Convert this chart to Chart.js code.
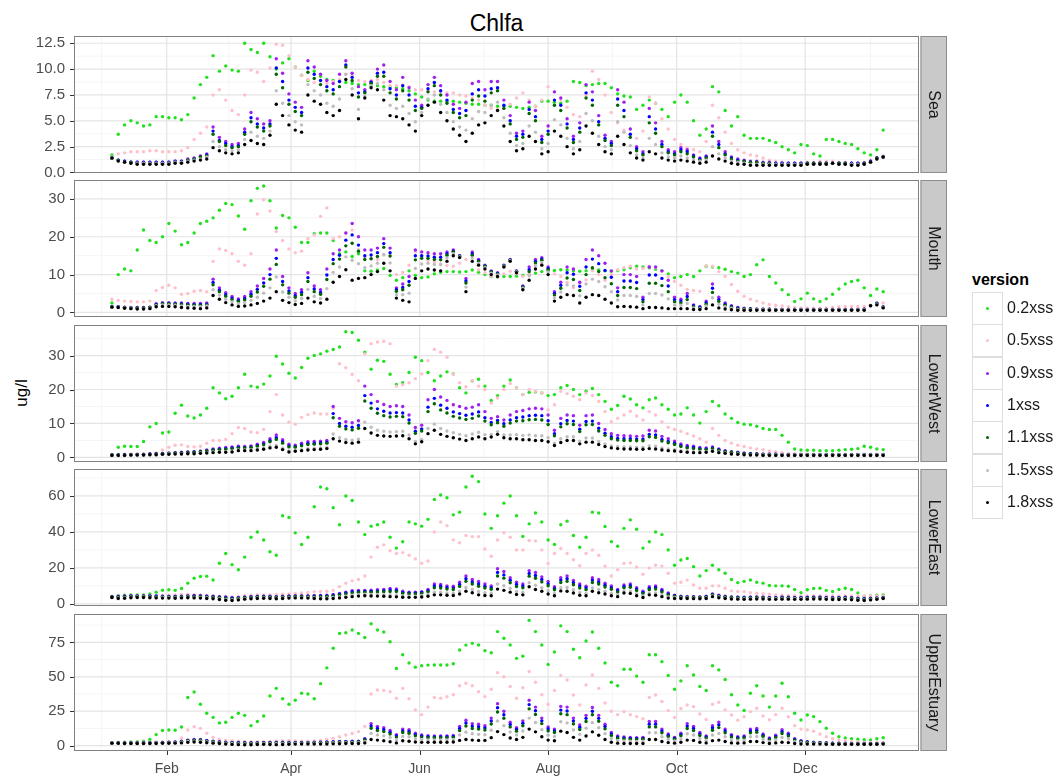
<!DOCTYPE html>
<html lang="en">
<head>
<meta charset="UTF-8">
<title>Chlfa</title>
<script src="https://cdn.jsdelivr.net/npm/chart.js"></script>
<style>
    body { margin: 0; background: #fff; font-family: "Liberation Sans", Arial, sans-serif; }
    #wrap { position: relative; width: 1060px; height: 776px; overflow: hidden; background: #fff; }
    #wrap canvas { position: absolute; left: 0; }
    #title { position: absolute; left: 74px; width: 845px; top: 11px; line-height: 24px; font-size: 23px; text-align: center; color: #000; }
    #ylab { position: absolute; left: -78px; top: 383px; width: 200px; line-height: 20px; font-size: 17px; text-align: center; transform: rotate(-90deg); color: #000; }
    #legendTitle { position: absolute; left: 972px; top: 270px; font-size: 16px; font-weight: bold; line-height: 20px; color: #000; }
    .key { position: absolute; left: 972px; width: 29px; height: 31px; border: 1px solid #dedede; background: #fff; }
    .dot { position: absolute; left: 13px; top: 14px; width: 3px; height: 3px; border-radius: 50%; }
    .klab { position: absolute; left: 1007px; font-size: 16px; line-height: 20px; color: #1a1a1a; }
</style>
</head>
<body>
<div id="wrap">
    <div id="title">Chlfa</div>
    <div id="ylab">ug/l</div>
    <div id="legendTitle">version</div>
</div>

<script>
// ---- categories / ticks ----
const versions = ['0.2xss', '0.5xss', '0.9xss', '1xss', '1.1xss', '1.5xss', '1.8xss'];
const colors = ['#20e020', '#ffc0cb', '#a020f0', '#0000ff', '#006400', '#bebebe', '#000000'];
const sites = ['Sea', 'Mouth', 'LowerWest', 'LowerEast', 'UpperEstuary'];

// day of year (0 = 1 Jan); one sample every 3 days from 6 Jan
const days = [];
for (let i = 0; i < 123; i++) days.push(5 + 3 * i);

const xTickDays = [31, 90, 151, 212, 273, 334];
const xTickLabels = ['Feb', 'Apr', 'Jun', 'Aug', 'Oct', 'Dec'];
const xMinorDays = [0, 60.5, 120.5, 181.5, 242.5, 303.5, 365];

const seaTicks = [0, 2.5, 5, 7.5, 10, 12.5];
const seaTickLabels = ['0.0', '2.5', '5.0', '7.5', '10.0', '12.5'];
const mouthTicks = [0, 10, 20, 30];
const lowerWestTicks = [0, 10, 20, 30];
const lowerEastTicks = [0, 20, 40, 60];
const upperEstuaryTicks = [0, 25, 50, 75];

// ---- Sea ----
const sea02 = [1.7,3.7,4.6,5.0,4.8,4.5,4.6,5.4,5.4,5.3,
5.3,5.1,5.6,7.2,8.5,9.2,11.3,9.8,10.3,9.9,
9.8,12.5,11.9,11.6,12.5,11.2,10.0,10.6,11.0,10.2,
9.4,8.9,9.8,9.3,9.0,8.9,8.8,8.7,8.6,8.5,
8.5,8.4,8.4,8.3,8.3,8.2,8.1,7.9,7.6,7.3,
7.0,6.9,6.9,6.9,6.9,6.8,6.7,6.6,6.6,6.5,
6.5,6.4,6.4,6.4,6.3,6.2,6.3,6.4,6.9,6.9,
6.8,6.7,6.9,8.8,8.7,8.4,8.5,8.6,8.6,8.2,
7.6,7.4,7.3,6.1,6.5,7.0,6.7,6.1,5.4,6.8,
7.5,6.8,5.0,3.6,4.2,8.3,7.8,6.0,4.5,5.4,
3.6,3.3,3.3,3.3,3.1,2.9,2.5,2.2,1.9,2.7,
2.6,1.8,1.6,3.2,3.2,3.0,2.8,2.7,2.3,1.9,
1.7,2.2,4.1];
const sea05 = [1.5,1.8,1.9,2.0,2.0,2.0,2.1,2.1,2.0,2.0,
2.0,2.1,2.4,3.2,3.8,4.4,7.5,8.0,7.0,6.0,
5.6,7.5,9.9,9.7,8.8,10.1,12.4,12.3,11.3,10.2,
9.4,9.0,8.7,8.5,8.6,8.8,9.0,9.5,9.4,8.9,
8.8,8.9,9.0,8.7,8.4,8.4,8.5,8.3,8.0,8.0,
7.9,7.8,7.8,7.7,7.7,7.5,7.4,7.2,7.0,6.5,
6.2,6.1,6.2,6.6,7.2,7.7,7.0,6.4,7.0,8.3,
7.8,7.0,6.3,5.6,5.4,7.5,9.8,9.0,7.5,5.8,
4.8,4.1,3.6,3.3,4.0,7.3,6.7,5.2,4.2,3.2,
2.7,2.4,2.2,2.0,3.0,6.5,5.3,3.9,2.8,2.2,
1.9,1.7,1.6,1.4,1.2,1.1,1.0,0.9,0.9,0.9,
1.0,1.0,1.1,1.1,1.1,1.0,1.0,0.9,0.9,1.0,
1.2,1.4,1.6];
const sea09 = [1.4,1.2,1.1,1.0,1.0,1.0,1.0,1.0,1.0,1.0,
1.1,1.1,1.3,1.4,1.6,1.8,4.4,3.4,3.0,2.7,
2.8,4.2,5.8,5.2,4.7,5.0,11.0,9.6,7.6,6.8,
6.3,10.8,10.2,9.5,8.9,8.6,9.5,10.8,9.6,8.3,
8.0,8.8,10.0,10.4,8.8,8.0,9.2,8.2,7.0,6.5,
8.5,9.2,8.4,7.5,6.6,6.2,6.8,8.6,8.8,8.0,
8.8,8.8,7.0,5.5,3.8,4.0,6.8,6.0,3.5,4.5,
7.8,7.2,5.2,3.5,4.8,8.5,7.8,5.5,3.6,3.0,
8.0,6.8,4.2,2.5,2.0,6.2,4.8,3.0,2.2,2.0,
2.4,2.2,1.7,1.4,1.6,4.5,3.0,2.0,1.5,1.3,
1.2,1.1,1.1,1.0,1.0,0.9,0.9,0.9,0.9,0.9,
0.9,0.9,0.9,0.9,0.9,0.9,0.9,0.9,0.9,0.9,
1.1,1.4,1.5];
const sea10 = [1.4,1.2,1.1,1.0,1.0,1.0,1.0,1.0,1.0,1.0,
1.1,1.1,1.2,1.3,1.5,1.7,4.0,3.1,2.8,2.5,
2.6,3.9,5.3,4.7,4.3,4.7,10.1,8.8,7.0,6.3,
5.8,10.1,9.5,8.9,8.3,8.0,8.8,10.4,9.2,7.7,
7.8,8.7,9.6,9.7,8.1,7.5,8.4,7.5,6.4,6.3,
8.1,8.7,7.9,7.0,6.1,5.7,6.0,7.6,8.0,7.4,
8.1,8.2,6.5,5.0,3.5,3.7,6.1,5.4,3.2,4.0,
7.0,6.5,4.7,3.2,4.3,7.7,7.0,4.9,3.3,2.8,
7.1,6.0,3.7,2.3,1.8,5.4,4.2,2.7,2.0,1.8,
2.2,2.0,1.6,1.3,1.5,3.9,2.7,1.8,1.4,1.2,
1.1,1.0,1.0,0.9,0.9,0.9,0.9,0.9,0.9,0.9,
0.9,0.9,0.9,0.9,0.9,0.9,0.9,0.9,0.9,0.9,
1.1,1.4,1.5];
const sea11 = [1.4,1.2,1.0,1.0,0.9,0.9,0.9,0.9,0.9,0.9,
1.0,1.0,1.2,1.3,1.5,1.6,3.7,3.0,2.6,2.4,
2.5,3.7,4.9,4.4,4.0,4.5,9.5,8.2,6.6,5.9,
5.5,9.7,9.1,8.5,7.9,7.6,8.3,10.2,8.9,7.3,
7.7,8.6,9.3,9.3,7.7,7.1,7.9,7.0,6.0,6.2,
7.8,8.4,7.5,6.7,5.8,5.3,5.5,7.0,7.4,6.9,
7.7,7.9,6.2,4.7,3.2,3.4,5.7,5.0,2.9,3.7,
6.5,6.0,4.3,2.9,3.9,7.2,6.5,4.6,3.1,2.6,
6.5,5.4,3.4,2.1,1.7,4.8,3.8,2.5,1.9,1.7,
2.0,1.8,1.5,1.2,1.4,3.5,2.4,1.7,1.3,1.1,
1.1,1.0,1.0,0.9,0.9,0.8,0.8,0.8,0.8,0.8,
0.9,0.9,0.9,0.9,0.9,0.9,0.9,0.8,0.8,0.9,
1.0,1.4,1.5];
const sea15 = [1.4,1.1,1.0,0.9,0.9,0.9,0.9,0.9,0.9,0.9,
1.0,1.0,1.1,1.2,1.3,1.5,3.0,2.5,2.2,2.1,
2.2,3.2,3.9,3.5,3.3,4.0,7.9,6.7,5.5,4.9,
4.6,8.5,7.9,7.5,6.7,6.4,7.1,9.5,8.1,6.1,
7.4,8.4,8.6,8.0,6.5,6.2,6.4,5.7,4.9,5.8,
7.1,7.5,6.6,5.8,4.9,4.4,4.1,5.2,5.9,5.8,
6.5,6.8,5.3,3.8,2.6,2.8,4.5,3.9,2.3,2.8,
5.1,4.6,3.3,2.3,3.0,5.7,5.0,3.5,2.5,2.2,
4.9,3.9,2.6,1.7,1.4,3.3,2.7,1.9,1.5,1.4,
1.6,1.4,1.2,1.1,1.2,2.5,1.8,1.4,1.1,1.0,
0.9,0.8,0.8,0.8,0.8,0.8,0.8,0.8,0.8,0.8,
0.8,0.8,0.8,0.8,0.9,0.8,0.8,0.8,0.8,0.8,
1.0,1.3,1.5];
const sea18 = [1.4,1.1,1.0,0.9,0.8,0.8,0.8,0.8,0.8,0.8,
0.9,0.9,1.0,1.1,1.2,1.3,2.4,2.1,1.9,1.8,
1.9,2.7,3.1,2.8,2.7,3.6,6.6,5.5,4.6,4.1,
3.9,7.5,6.9,6.6,5.8,5.5,6.0,9.0,7.5,5.2,
7.2,8.2,8.0,7.0,5.5,5.4,5.2,4.6,4.0,5.5,
6.5,6.8,5.8,5.0,4.2,3.6,3.0,3.8,4.6,4.8,
5.5,6.0,4.5,3.0,2.1,2.3,3.5,3.0,1.8,2.0,
4.0,3.5,2.5,1.8,2.2,4.5,3.8,2.7,2.0,1.8,
3.5,2.7,1.9,1.4,1.2,2.0,1.8,1.4,1.2,1.1,
1.2,1.1,1.0,0.9,1.0,1.6,1.3,1.1,0.9,0.8,
0.8,0.7,0.7,0.7,0.7,0.7,0.7,0.7,0.7,0.7,
0.8,0.8,0.8,0.8,0.9,0.8,0.8,0.7,0.7,0.8,
1.0,1.3,1.5];

// ---- Mouth ----
const mouth02 = [2.5,10.0,11.5,11.0,16.5,21.8,19.0,18.5,20.0,23.5,
21.5,17.9,18.5,21.0,23.5,24.1,25.0,27.0,28.8,28.5,
25.5,22.0,29.5,32.8,33.4,29.5,22.3,25.6,25.0,22.5,
18.5,18.5,20.8,21.0,21.0,19.0,15.5,16.0,14.8,15.5,
11.0,10.9,11.2,11.6,9.8,8.5,9.2,11.0,9.8,9.2,
9.4,10.2,10.6,10.8,10.8,10.7,10.8,11.2,10.6,10.0,
9.5,9.4,9.5,9.5,9.6,9.8,10.0,10.4,10.8,11.0,
11.1,11.3,11.2,11.0,10.9,11.0,11.2,11.2,11.0,10.9,
11.1,11.3,11.8,12.2,12.0,11.8,11.4,11.0,10.2,9.2,
9.5,10.0,9.5,11.0,12.2,12.0,11.8,11.4,10.8,10.4,
9.5,10.0,12.6,13.9,9.5,7.8,6.0,4.7,2.9,3.6,
5.1,3.6,2.9,3.6,4.8,6.2,7.5,8.2,8.5,6.5,
4.5,6.2,5.5];
const mouth05 = [3.5,3.2,3.0,2.9,2.8,2.8,3.0,5.8,6.6,7.2,
6.5,4.8,5.0,5.6,5.8,5.5,13.5,16.8,16.4,15.5,
13.5,12.5,15.5,26.0,29.8,26.8,21.4,19.0,16.8,15.8,
16.2,19.5,20.5,25.4,27.6,19.5,20.0,21.0,21.8,16.6,
14.5,14.2,14.0,15.2,15.0,10.0,10.6,12.5,16.0,15.0,
13.8,13.3,12.8,12.4,12.2,13.0,14.0,15.0,11.3,10.5,
9.6,9.5,10.2,10.9,10.2,9.5,10.2,11.5,12.6,11.5,
10.2,9.5,8.0,6.5,7.5,8.6,11.0,10.0,8.5,10.0,
11.3,11.8,12.2,11.5,11.6,12.2,11.8,10.8,9.5,8.2,
7.2,6.1,5.8,5.6,12.3,12.2,10.8,9.5,7.4,5.6,
4.3,3.5,3.0,2.5,2.1,1.9,1.7,1.5,1.3,1.2,
1.1,1.1,1.1,1.2,1.3,1.5,1.6,1.6,1.6,1.6,
1.9,2.2,2.5];
const mouth09 = [1.5,1.5,1.4,1.3,1.3,1.3,1.4,2.3,2.6,2.6,
2.5,2.5,2.4,2.4,2.4,2.5,8.8,6.5,5.2,4.2,
3.6,4.2,5.5,7.0,9.0,11.5,16.5,9.5,6.5,5.0,
6.0,10.5,7.0,6.0,11.5,15.5,16.5,21.0,23.5,20.0,
16.5,16.5,17.0,19.5,17.0,6.5,7.5,9.5,16.5,16.0,
15.8,15.5,15.5,16.0,16.5,15.0,9.0,16.0,14.0,12.5,
11.0,10.5,12.5,14.0,11.0,7.0,12.0,14.0,14.5,12.0,
5.5,8.0,12.0,11.5,8.0,14.0,16.5,15.0,13.0,11.0,
6.5,10.0,10.0,9.5,4.0,12.0,12.0,11.0,8.5,4.0,
3.5,5.0,2.0,1.5,3.0,7.5,4.0,2.5,1.8,1.3,
1.1,1.0,0.9,0.9,0.9,0.8,0.8,0.8,0.8,0.8,
0.8,0.8,0.8,0.8,0.8,0.8,0.8,0.8,0.8,0.9,
1.8,2.5,1.5];
const mouth10 = [1.5,1.5,1.3,1.2,1.2,1.2,1.3,2.1,2.4,2.4,
2.3,2.3,2.2,2.1,2.1,2.2,7.9,5.9,4.7,3.8,
3.2,3.7,4.8,6.1,7.8,10.0,14.3,8.2,5.7,4.4,
5.3,9.2,6.2,5.3,9.9,14.0,15.1,19.1,20.5,17.8,
15.0,15.2,15.8,18.2,15.8,6.0,6.6,8.2,15.0,15.0,
14.9,14.6,14.6,15.5,16.2,14.9,8.3,15.5,13.7,12.3,
10.8,10.3,12.4,13.9,10.9,6.8,11.3,13.5,14.1,11.6,
5.0,7.2,10.5,10.1,6.9,12.0,14.1,12.9,11.1,9.3,
5.5,8.3,8.3,7.9,3.4,9.9,9.9,9.0,7.0,3.4,
3.0,4.2,1.8,1.4,2.6,6.4,3.4,2.2,1.6,1.2,
1.0,0.9,0.8,0.8,0.8,0.8,0.8,0.8,0.8,0.8,
0.8,0.8,0.8,0.8,0.8,0.8,0.8,0.8,0.8,0.8,
1.8,2.4,1.4];
const mouth11 = [1.5,1.4,1.3,1.2,1.2,1.2,1.3,2.0,2.3,2.3,
2.2,2.1,2.0,2.0,1.9,2.0,7.3,5.5,4.3,3.4,
2.9,3.3,4.3,5.4,6.9,8.8,12.7,7.3,5.1,4.0,
4.7,8.2,5.5,4.8,8.7,12.9,14.1,17.6,18.3,16.2,
14.0,14.2,14.8,17.2,14.9,5.6,6.0,7.2,13.9,14.3,
14.3,14.0,13.9,15.1,16.0,14.8,7.8,15.1,13.5,12.2,
10.7,10.2,12.3,13.8,10.8,6.7,10.8,13.1,13.8,11.3,
4.6,6.4,9.1,8.7,5.8,10.0,11.8,10.8,9.2,7.6,
4.5,6.6,6.6,6.3,2.8,7.7,7.7,7.1,5.5,2.8,
2.5,3.4,1.5,1.2,2.2,5.3,2.9,1.9,1.4,1.0,
0.9,0.9,0.8,0.8,0.8,0.7,0.7,0.7,0.7,0.7,
0.7,0.7,0.7,0.7,0.7,0.7,0.7,0.7,0.7,0.8,
1.8,2.3,1.4];
const mouth15 = [1.4,1.4,1.2,1.1,1.0,1.0,1.1,1.8,2.0,2.0,
1.9,1.7,1.6,1.6,1.5,1.7,6.0,4.6,3.5,2.8,
2.3,2.6,3.2,4.0,5.1,6.5,9.4,5.4,4.0,3.1,
3.7,6.1,4.3,3.7,6.3,10.6,12.0,14.7,13.8,12.9,
11.8,12.3,13.0,15.3,13.1,4.7,4.7,5.1,11.6,12.8,
13.0,12.7,12.6,14.4,15.5,14.7,6.7,14.4,13.0,11.9,
10.4,9.9,12.2,13.7,10.7,6.4,9.7,12.4,13.2,10.7,
3.9,5.4,7.3,7.0,4.4,7.5,8.8,8.2,6.8,5.5,
3.3,4.5,4.5,4.2,2.0,5.0,5.0,4.6,3.6,2.0,
1.9,2.4,1.2,1.0,1.7,3.9,2.2,1.5,1.1,0.8,
0.8,0.7,0.7,0.7,0.7,0.7,0.7,0.7,0.7,0.7,
0.7,0.7,0.7,0.7,0.7,0.7,0.7,0.7,0.7,0.7,
1.8,2.2,1.3];
const mouth18 = [1.4,1.3,1.1,1.0,0.9,0.9,1.0,1.5,1.6,1.6,
1.5,1.3,1.2,1.1,1.0,1.2,4.5,3.5,2.6,2.0,
1.6,1.7,2.0,2.4,3.0,3.8,5.5,3.2,2.6,2.1,
2.4,3.8,2.8,2.5,3.5,8.0,9.5,11.3,8.5,9.0,
9.2,10.0,10.8,13.0,11.0,3.8,3.2,2.8,9.0,11.0,
11.5,11.2,11.0,13.5,15.0,14.5,5.5,13.5,12.5,11.5,
10.0,9.5,12.0,13.5,10.5,6.0,8.5,11.5,12.5,10.0,
3.0,4.0,4.7,4.5,2.5,4.0,4.7,4.5,3.5,2.5,
1.5,1.6,1.5,1.4,1.0,1.3,1.3,1.2,1.0,1.0,
1.0,1.0,0.8,0.8,1.0,2.0,1.2,0.9,0.7,0.6,
0.6,0.6,0.6,0.6,0.6,0.6,0.6,0.6,0.6,0.6,
0.6,0.6,0.6,0.6,0.6,0.6,0.6,0.6,0.6,0.6,
1.8,2.0,1.2];

// ---- LowerWest ----
const lowerWest02 = [0.8,3.0,3.3,3.2,3.2,4.7,9.0,10.0,7.2,7.5,
13.0,15.4,12.2,11.6,12.5,14.5,20.5,19.0,17.3,18.0,
20.5,24.5,21.0,20.7,21.6,24.0,29.8,27.5,24.8,23.4,
26.5,29.2,30.0,30.5,31.3,31.8,32.5,37.0,36.8,34.5,
31.0,26.0,28.6,28.3,24.5,21.5,22.0,25.0,29.5,28.5,
25.0,22.6,24.0,25.2,24.6,20.5,19.0,22.5,23.0,21.0,
16.8,18.2,21.0,22.8,20.5,18.5,19.2,19.3,19.0,18.2,
18.5,20.5,21.2,20.0,18.5,19.5,20.3,18.5,16.5,14.2,
15.3,18.0,17.2,15.5,14.6,17.0,17.5,15.5,14.2,12.5,
12.8,14.6,12.5,10.1,13.5,16.5,15.2,12.8,11.5,10.3,
9.8,9.6,9.2,8.5,8.2,8.2,6.5,4.5,2.5,2.2,
2.1,2.1,2.0,2.0,2.0,2.1,2.3,2.4,2.6,3.3,
3.0,2.5,2.3];
const lowerWest05 = [0.8,0.9,1.0,1.0,1.0,1.1,1.1,1.3,2.2,3.0,
3.6,3.7,3.2,3.1,3.3,4.2,5.0,5.0,5.3,7.0,
8.8,8.5,7.5,7.3,8.2,13.5,18.5,12.5,10.4,9.8,
11.8,12.6,13.1,12.8,12.8,14.5,27.6,26.4,24.4,22.6,
30.5,33.5,34.0,34.2,33.5,21.0,21.4,22.0,23.2,24.6,
28.5,31.8,31.0,29.5,24.5,22.0,20.8,22.5,21.0,20.0,
16.0,17.5,20.0,21.8,20.5,18.5,20.0,19.5,19.0,14.0,
15.5,19.5,18.8,18.0,17.0,19.0,18.2,16.5,13.5,10.5,
11.5,12.5,13.6,12.2,11.0,13.5,12.5,10.5,8.9,8.2,
7.7,7.0,6.3,5.5,4.5,8.5,6.5,5.0,4.2,3.6,
3.2,2.8,2.5,2.3,1.9,1.7,1.4,1.2,1.1,1.0,
0.9,0.8,0.8,0.8,0.8,0.8,0.8,0.8,0.8,0.8,
0.8,0.8,0.8];
const lowerWest09 = [0.7,0.7,0.8,0.8,0.9,0.9,1.0,1.1,1.2,1.3,
1.4,1.5,1.6,1.7,1.9,2.2,2.5,2.7,2.9,3.1,
3.3,3.2,3.4,3.9,4.4,5.5,6.6,5.2,3.9,3.6,
4.2,4.6,4.7,4.8,5.0,15.0,11.5,10.5,10.2,10.8,
21.0,18.5,16.5,15.6,15.0,15.2,15.0,12.5,8.8,9.5,
17.0,20.0,17.8,16.8,15.5,15.0,14.5,14.8,15.5,13.5,
11.5,12.0,11.0,12.5,13.5,13.8,14.3,14.5,14.3,12.5,
8.0,11.5,12.5,12.3,9.5,12.3,12.5,10.0,8.2,7.0,
6.5,6.4,6.3,6.2,6.3,8.0,7.8,6.2,5.5,4.8,
4.0,3.5,3.3,2.9,2.8,3.1,2.5,2.0,1.7,1.5,
1.3,1.2,1.1,1.0,1.0,1.0,0.9,0.9,0.9,0.9,
0.9,0.9,0.9,0.9,0.9,0.9,0.9,0.9,0.9,0.9,
0.9,0.9,0.9];
const lowerWest10 = [0.7,0.7,0.8,0.8,0.9,0.9,1.0,1.0,1.1,1.2,
1.3,1.4,1.5,1.6,1.7,2.0,2.3,2.4,2.6,2.8,
3.0,2.9,3.1,3.5,4.0,4.9,5.8,4.6,3.4,3.2,
3.7,4.1,4.2,4.3,4.5,12.9,10.0,9.2,8.9,9.4,
18.2,16.0,14.3,13.6,13.1,13.2,13.1,11.0,7.7,8.4,
14.8,17.4,15.4,14.5,13.4,12.9,12.4,12.8,13.4,11.7,
10.3,10.9,9.9,11.0,11.7,11.9,12.3,12.4,12.3,10.8,
7.0,9.9,10.9,10.7,8.3,10.6,10.7,8.6,7.1,6.1,
5.6,5.5,5.5,5.4,5.4,6.8,6.6,5.3,4.7,4.2,
3.5,3.1,2.9,2.6,2.5,2.8,2.3,1.8,1.5,1.4,
1.2,1.1,1.0,0.9,0.9,0.9,0.8,0.8,0.8,0.8,
0.8,0.8,0.8,0.8,0.8,0.8,0.8,0.8,0.8,0.8,
0.8,0.8,0.8];
const lowerWest11 = [0.7,0.7,0.7,0.8,0.8,0.8,0.9,1.0,1.1,1.2,
1.3,1.3,1.4,1.5,1.7,1.9,2.1,2.3,2.4,2.6,
2.8,2.8,2.9,3.3,3.7,4.6,5.3,4.2,3.1,3.0,
3.4,3.8,3.9,4.0,4.2,11.7,9.2,8.4,8.1,8.6,
16.6,14.5,13.0,12.3,11.9,12.1,12.0,10.1,7.1,7.8,
13.5,15.8,14.0,13.1,12.1,11.6,11.2,11.5,12.2,10.7,
9.6,10.2,9.2,10.1,10.7,10.8,11.1,11.2,11.0,9.7,
6.4,9.0,9.9,9.7,7.6,9.6,9.7,7.8,6.5,5.5,
5.1,5.0,5.0,4.9,4.9,6.1,5.9,4.8,4.3,3.8,
3.2,2.8,2.6,2.4,2.3,2.6,2.1,1.7,1.5,1.3,
1.1,1.0,1.0,0.9,0.9,0.9,0.8,0.8,0.8,0.8,
0.8,0.8,0.8,0.8,0.8,0.8,0.8,0.8,0.8,0.8,
0.8,0.8,0.8];
const lowerWest15 = [0.6,0.6,0.6,0.7,0.7,0.7,0.8,0.8,0.9,1.0,
1.1,1.1,1.2,1.2,1.3,1.4,1.6,1.7,1.7,1.8,
2.2,2.2,2.2,2.5,2.7,3.2,3.5,2.7,1.9,2.1,
2.3,2.6,2.7,2.8,3.0,6.9,5.8,5.3,5.1,5.4,
10.4,8.9,8.0,7.7,7.5,7.6,7.7,6.6,4.7,5.3,
8.5,9.8,8.5,7.8,7.3,6.8,6.4,6.9,7.4,6.7,
6.8,7.6,6.6,6.6,6.7,6.5,6.6,6.4,6.4,5.8,
4.2,5.5,6.1,6.1,4.8,5.7,5.7,4.7,4.0,3.4,
3.2,3.1,3.1,3.0,3.0,3.4,3.3,2.8,2.5,2.3,
2.0,1.8,1.7,1.6,1.7,2.0,1.6,1.3,1.1,1.0,
0.9,0.8,0.8,0.7,0.7,0.7,0.7,0.7,0.7,0.7,
0.7,0.7,0.7,0.7,0.7,0.7,0.7,0.7,0.7,0.7,
0.7,0.7,0.7];
const lowerWest18 = [0.6,0.6,0.6,0.7,0.7,0.7,0.8,0.8,0.9,0.9,
1.0,1.0,1.1,1.1,1.2,1.3,1.4,1.5,1.5,1.6,
2.0,2.0,2.0,2.2,2.4,2.8,3.0,2.3,1.6,1.8,
2.0,2.2,2.3,2.4,2.6,5.5,4.8,4.4,4.2,4.5,
8.5,7.2,6.5,6.3,6.2,6.3,6.4,5.5,4.0,4.6,
7.0,8.0,6.8,6.2,5.8,5.4,5.0,5.5,6.0,5.5,
6.0,6.8,5.8,5.5,5.5,5.2,5.2,5.0,5.0,4.6,
3.5,4.4,5.0,5.0,4.0,4.5,4.5,3.8,3.2,2.8,
2.6,2.5,2.5,2.4,2.4,2.6,2.5,2.2,2.0,1.9,
1.7,1.5,1.4,1.4,1.5,1.8,1.4,1.2,1.0,0.9,
0.8,0.7,0.7,0.6,0.6,0.6,0.6,0.6,0.6,0.6,
0.6,0.6,0.6,0.6,0.6,0.6,0.6,0.6,0.6,0.6,
0.6,0.6,0.6];

// ---- LowerEast ----
const lowerEast02 = [4.1,4.5,4.8,5.0,5.0,5.0,5.5,6.5,7.6,7.8,
7.5,8.5,11.5,14.3,15.2,15.4,13.3,22.6,28.0,21.8,
19.0,26.0,37.0,40.0,35.5,29.0,27.0,49.0,48.0,39.5,
33.0,37.0,54.0,65.0,64.0,53.5,44.0,60.0,57.5,45.5,
38.5,43.2,44.0,45.5,37.0,31.0,34.5,45.5,44.5,43.2,
47.0,58.0,60.5,59.0,49.5,51.0,65.0,71.0,68.0,50.0,
42.0,49.0,56.0,60.0,49.0,37.5,44.5,50.5,45.5,35.5,
33.0,44.0,46.0,38.0,31.5,37.0,51.0,50.5,43.0,34.6,
32.0,42.0,46.7,41.5,31.0,34.5,40.0,38.5,30.0,21.5,
24.4,25.2,20.7,15.5,18.5,21.5,19.0,17.0,13.5,11.8,
12.5,13.3,12.0,11.5,10.2,10.0,10.0,9.8,8.0,6.2,
7.8,8.5,8.7,7.5,6.9,8.0,8.7,8.0,6.0,4.2,
4.4,4.8,5.0];
const lowerEast05 = [4.1,4.3,4.5,4.5,4.5,4.5,4.6,4.6,4.7,4.8,
5.0,5.2,5.3,5.0,4.8,4.6,4.5,4.3,4.0,3.7,
4.0,4.5,4.8,5.0,5.0,5.0,5.2,5.3,5.5,5.8,
6.0,6.3,6.8,6.9,7.0,7.5,9.6,11.5,12.8,13.5,
15.5,26.0,31.5,32.8,29.5,28.0,28.5,27.0,25.0,22.6,
23.8,40.0,45.5,43.5,35.6,34.0,38.0,37.4,37.4,30.5,
26.5,35.5,39.5,37.0,30.0,30.0,35.2,35.0,30.0,22.5,
28.0,30.8,28.0,24.5,21.2,28.0,30.0,27.0,21.0,15.5,
19.0,22.5,22.8,20.5,16.5,20.0,21.5,21.0,17.0,11.5,
12.0,13.2,10.5,8.7,8.7,10.0,10.0,8.7,7.2,6.9,
6.8,6.2,5.9,5.6,5.3,5.0,4.8,4.6,4.5,4.4,
4.4,4.4,4.4,4.4,4.4,4.4,4.4,4.4,4.4,4.4,
4.4,4.4,4.4];
const lowerEast09 = [4.0,4.2,4.4,4.5,4.5,4.5,4.5,4.4,4.3,4.2,
4.2,4.3,4.5,4.6,4.6,4.4,4.3,4.0,3.8,3.5,
3.6,3.8,4.0,4.2,4.3,4.2,4.0,4.2,4.4,4.5,
4.5,4.5,4.6,4.7,4.8,5.2,5.8,6.5,7.3,7.5,
7.5,7.6,7.8,8.0,8.5,8.3,7.0,6.5,6.5,6.8,
8.0,11.0,10.8,10.0,9.8,12.0,15.5,13.5,12.4,11.0,
10.0,19.5,18.0,14.5,12.0,11.0,18.5,17.5,15.0,12.5,
9.5,14.5,15.5,13.0,11.0,9.8,14.5,13.5,11.5,10.0,
8.0,10.5,11.0,9.0,7.0,9.5,10.0,8.0,6.0,4.8,
4.2,4.0,4.0,3.9,4.2,5.5,4.8,4.2,3.9,3.8,
3.7,3.8,3.9,3.8,3.6,3.6,3.8,3.7,3.6,3.6,
3.7,3.8,3.8,3.6,3.5,3.6,3.7,3.5,3.2,3.0,
3.2,3.3,3.5];
const lowerEast10 = [3.9,4.0,4.2,4.3,4.3,4.3,4.3,4.2,4.1,4.0,
4.0,4.1,4.3,4.4,4.3,4.1,4.0,3.7,3.5,3.2,
3.3,3.6,3.8,4.0,4.1,4.0,3.8,4.0,4.2,4.3,
4.3,4.3,4.3,4.4,4.4,4.8,5.4,6.0,6.7,6.9,
7.0,7.0,7.2,7.3,7.7,7.5,6.4,6.0,6.0,6.3,
7.3,9.9,9.8,9.1,8.9,10.8,14.0,12.2,11.1,9.8,
9.0,17.5,16.1,13.1,10.8,9.9,16.9,15.8,13.6,11.2,
8.6,13.2,14.0,11.7,9.9,8.8,13.2,12.2,10.4,9.0,
7.3,9.7,10.1,8.2,6.4,8.7,9.1,7.3,5.5,4.5,
4.0,3.8,3.8,3.7,4.0,5.2,4.5,4.0,3.7,3.6,
3.5,3.6,3.7,3.6,3.4,3.4,3.6,3.5,3.4,3.4,
3.5,3.6,3.6,3.4,3.3,3.4,3.5,3.3,3.0,2.8,
3.0,3.2,3.4];
const lowerEast11 = [3.8,3.8,4.0,4.1,4.2,4.2,4.1,4.0,3.9,3.9,
3.8,4.0,4.1,4.1,4.1,3.9,3.8,3.4,3.2,2.9,
3.1,3.4,3.6,3.8,3.9,3.8,3.6,3.8,4.0,4.1,
4.1,4.0,4.0,4.0,4.1,4.4,4.9,5.5,6.1,6.4,
6.5,6.5,6.6,6.7,6.9,6.8,5.8,5.5,5.5,5.8,
6.7,8.9,8.8,8.2,8.0,9.7,12.5,11.0,9.8,8.8,
8.1,15.5,14.3,11.7,9.6,8.9,15.4,14.2,12.2,10.1,
7.8,11.9,12.5,10.6,8.8,7.9,11.9,11.0,9.4,8.1,
6.6,8.9,9.2,7.4,5.8,7.9,8.2,6.6,5.0,4.2,
3.8,3.7,3.6,3.5,3.8,5.0,4.3,3.8,3.5,3.4,
3.3,3.4,3.5,3.4,3.2,3.2,3.4,3.3,3.2,3.2,
3.3,3.4,3.4,3.2,3.1,3.2,3.3,3.1,2.8,2.6,
2.9,3.0,3.3];
const lowerEast15 = [3.6,3.3,3.4,3.7,3.8,3.8,3.7,3.6,3.5,3.5,
3.4,3.6,3.7,3.6,3.6,3.4,3.2,2.8,2.5,2.3,
2.6,2.9,3.1,3.3,3.4,3.3,3.1,3.3,3.5,3.6,
3.6,3.5,3.4,3.3,3.3,3.6,3.9,4.3,4.8,5.1,
5.3,5.2,5.2,5.2,5.1,5.0,4.5,4.3,4.3,4.6,
5.2,6.5,6.5,6.1,5.9,7.1,9.1,8.0,6.9,6.2,
5.9,11.0,10.1,8.5,6.9,6.5,11.8,10.4,9.0,7.3,
5.8,9.0,9.1,7.8,6.4,5.8,8.9,8.0,7.0,5.9,
5.0,7.1,7.1,5.6,4.4,6.1,6.1,5.0,3.9,3.5,
3.3,3.3,3.2,3.1,3.3,4.4,3.8,3.3,3.0,2.9,
2.8,2.9,3.0,3.0,2.8,2.8,2.9,2.9,2.8,2.8,
2.9,3.0,3.0,2.8,2.7,2.7,2.8,2.6,2.3,2.2,
2.5,2.7,3.1];
const lowerEast18 = [3.5,3.0,3.1,3.4,3.5,3.5,3.4,3.3,3.2,3.2,
3.1,3.3,3.4,3.3,3.2,3.0,2.8,2.4,2.0,1.9,
2.2,2.6,2.8,3.0,3.1,3.0,2.8,3.0,3.2,3.3,
3.3,3.2,3.0,2.8,2.8,3.0,3.3,3.6,4.0,4.3,
4.5,4.4,4.3,4.2,4.0,3.9,3.7,3.6,3.6,3.8,
4.2,5.0,5.0,4.8,4.6,5.5,7.0,6.2,5.0,4.6,
4.5,8.2,7.5,6.5,5.2,5.0,9.5,8.0,7.0,5.5,
4.5,7.2,7.0,6.0,4.8,4.5,7.0,6.2,5.5,4.5,
4.0,6.0,5.8,4.5,3.5,5.0,4.8,4.0,3.2,3.0,
3.0,3.0,2.9,2.8,3.0,4.0,3.4,3.0,2.7,2.6,
2.5,2.6,2.7,2.7,2.5,2.5,2.6,2.6,2.5,2.5,
2.6,2.7,2.7,2.5,2.4,2.4,2.5,2.3,2.0,1.9,
2.2,2.5,3.0];

// ---- UpperEstuary ----
const upperEstuary02 = [2.2,2.4,2.5,2.6,2.8,3.3,4.5,8.0,11.0,11.4,
11.2,13.5,35.0,39.0,30.0,23.5,20.5,16.5,17.0,20.5,
23.5,22.0,14.5,17.5,21.5,36.0,41.6,34.0,30.0,33.0,
38.0,37.5,34.0,45.0,56.5,70.7,81.5,82.0,84.0,81.5,
78.5,88.5,84.0,82.5,75.5,56.0,66.0,60.0,57.0,58.0,
58.5,58.6,58.6,58.6,59.5,69.5,73.0,74.3,73.1,69.0,
67.5,82.8,78.0,73.1,63.4,65.0,91.0,82.8,73.1,59.0,
68.0,87.0,82.8,70.0,63.8,76.0,82.5,70.7,60.0,46.0,
43.5,55.5,55.5,50.5,46.0,66.0,66.0,61.0,51.0,41.0,
47.0,58.0,51.3,43.0,40.0,58.0,55.0,48.0,37.0,29.5,
25.5,38.0,43.5,36.0,28.0,36.0,45.3,35.5,23.5,18.6,
22.3,21.1,17.4,12.6,9.0,6.5,5.6,5.1,4.7,4.3,
4.1,5.0,5.8];
const upperEstuary05 = [2.0,2.2,2.3,2.4,2.5,2.5,2.5,2.6,2.6,2.6,
2.7,5.5,11.4,13.8,12.5,9.0,6.0,4.5,4.0,3.5,
3.2,3.0,2.8,2.6,2.8,3.0,3.2,3.5,3.8,3.6,
3.3,3.2,3.4,3.8,4.4,5.3,6.5,7.7,8.8,10.2,
14.0,37.5,40.4,40.0,39.2,34.4,41.6,34.0,26.0,22.5,
28.0,35.0,34.4,35.5,37.0,43.5,45.3,43.5,39.2,35.6,
41.0,53.0,50.0,42.9,34.4,42.0,53.8,46.0,37.0,30.0,
40.0,51.0,47.7,36.8,29.5,44.0,51.3,41.6,31.0,25.0,
22.5,24.7,22.5,21.1,19.5,35.0,36.8,32.0,25.5,20.5,
27.0,29.5,28.3,23.0,19.0,30.0,31.5,26.0,22.3,18.5,
21.0,24.7,27.1,21.5,18.8,22.5,27.1,21.0,14.5,12.0,
11.4,10.5,8.5,6.5,5.0,4.1,3.5,2.9,2.6,2.4,
2.4,2.4,2.4];
const upperEstuary09 = [2.0,2.0,2.0,2.0,2.0,2.1,2.2,2.3,2.4,2.5,
2.6,3.2,4.0,4.5,4.5,3.8,3.2,2.8,2.5,2.4,
2.3,2.3,2.2,2.2,2.3,2.4,2.5,2.5,2.4,2.3,
2.3,2.4,2.5,2.6,2.7,2.8,3.0,3.1,3.2,3.3,
5.0,16.0,14.0,13.0,11.0,8.0,12.0,11.5,9.0,7.8,
7.2,7.0,7.0,7.1,7.4,14.0,18.5,16.0,15.5,14.5,
20.0,30.5,25.0,17.0,13.0,18.0,33.0,28.0,20.0,13.5,
12.0,28.5,28.0,20.0,15.0,22.0,27.7,22.0,15.5,9.5,
7.0,6.3,6.0,5.8,6.0,17.5,17.5,12.0,8.5,6.0,
9.0,16.0,14.0,9.5,7.0,14.5,17.0,12.0,8.0,6.5,
7.0,12.0,12.5,8.5,5.5,7.5,11.5,9.0,5.0,3.5,
2.8,2.5,2.3,2.0,1.8,1.7,1.6,1.5,1.5,1.5,
1.5,1.5,1.6];
const upperEstuary10 = [2.0,2.0,1.9,1.9,1.9,2.0,2.1,2.2,2.3,2.4,
2.5,3.0,3.8,4.2,4.2,3.5,3.0,2.6,2.3,2.2,
2.1,2.0,2.0,2.0,2.1,2.2,2.2,2.2,2.2,2.1,
2.1,2.2,2.3,2.4,2.5,2.6,2.8,2.9,3.0,3.0,
4.6,14.3,12.5,11.6,9.8,7.1,10.7,10.3,8.0,7.0,
6.5,6.3,6.3,6.4,6.7,12.5,16.4,14.2,13.7,12.9,
17.9,27.5,22.4,15.3,11.7,16.2,29.8,25.3,18.0,12.1,
10.7,25.8,25.2,17.9,13.4,19.8,25.0,19.8,13.9,8.5,
6.2,5.6,5.3,5.2,5.3,15.6,15.6,10.7,7.6,5.4,
8.0,14.2,12.5,8.5,6.3,12.9,15.1,10.7,7.1,5.8,
6.3,10.7,11.1,7.6,4.9,6.7,10.2,8.0,4.5,3.2,
2.6,2.3,2.1,1.9,1.7,1.6,1.5,1.4,1.4,1.4,
1.4,1.4,1.5];
const upperEstuary11 = [1.9,1.9,1.9,1.9,1.9,2.0,2.0,2.1,2.2,2.3,
2.4,2.8,3.5,3.9,3.9,3.3,2.8,2.4,2.1,2.0,
1.8,1.8,1.7,1.8,1.9,1.9,2.0,2.0,2.0,1.9,
2.0,2.0,2.1,2.2,2.3,2.4,2.5,2.6,2.7,2.8,
4.1,12.6,11.0,10.2,8.5,6.2,9.5,9.0,7.1,6.2,
5.8,5.7,5.7,5.7,6.0,10.9,14.3,12.4,12.0,11.3,
15.7,24.4,19.9,13.6,10.5,14.4,26.7,22.6,16.0,10.7,
9.5,23.1,22.5,15.8,11.7,17.5,22.4,17.7,12.2,7.4,
5.4,4.9,4.7,4.5,4.7,13.6,13.6,9.3,6.6,4.7,
7.1,12.4,10.9,7.4,5.5,11.2,13.1,9.3,6.2,5.1,
5.5,9.3,9.7,6.6,4.3,5.9,8.8,7.0,4.0,2.8,
2.3,2.1,1.9,1.7,1.6,1.5,1.4,1.4,1.4,1.4,
1.4,1.4,1.5];
const upperEstuary15 = [1.9,1.8,1.8,1.8,1.8,1.8,1.8,1.9,2.0,2.0,
2.1,2.5,3.0,3.3,3.3,2.7,2.3,2.0,1.7,1.5,
1.3,1.2,1.2,1.3,1.5,1.4,1.4,1.4,1.5,1.6,
1.6,1.7,1.7,1.7,1.8,1.9,2.0,2.1,2.1,2.2,
3.1,8.9,7.8,7.1,5.9,4.3,6.7,6.4,5.0,4.5,
4.2,4.2,4.2,4.2,4.4,7.7,9.8,8.6,8.2,7.9,
11.2,17.9,14.5,9.9,7.7,10.6,20.0,16.8,11.6,7.6,
6.7,17.3,16.5,11.3,8.2,12.7,16.7,13.0,8.7,5.2,
3.8,3.4,3.2,3.1,3.3,9.4,9.4,6.4,4.6,3.4,
5.0,8.6,7.7,5.2,3.9,7.7,8.9,6.4,4.3,3.6,
3.9,6.4,6.6,4.6,3.1,4.1,5.9,4.8,2.8,2.1,
1.8,1.7,1.6,1.4,1.3,1.3,1.2,1.2,1.2,1.2,
1.2,1.2,1.3];
const upperEstuary18 = [1.8,1.7,1.6,1.6,1.6,1.6,1.6,1.6,1.7,1.7,
1.8,2.0,2.4,2.6,2.5,2.1,1.8,1.5,1.2,0.9,
0.7,0.6,0.6,0.8,1.0,0.8,0.7,0.8,1.0,1.1,
1.2,1.2,1.2,1.2,1.2,1.3,1.4,1.5,1.5,1.6,
2.0,4.5,4.0,3.5,2.8,2.0,3.5,3.2,2.6,2.4,
2.4,2.5,2.5,2.5,2.6,3.8,4.5,4.0,3.8,3.8,
5.8,10.2,8.0,5.5,4.5,6.0,12.0,10.0,6.5,4.0,
3.5,10.5,9.5,6.0,4.0,7.0,10.0,7.5,4.5,2.5,
1.8,1.6,1.5,1.5,1.6,4.5,4.5,3.0,2.2,1.8,
2.5,4.0,3.8,2.5,2.0,3.6,4.0,3.0,2.0,1.8,
2.0,3.0,3.0,2.2,1.6,2.0,2.5,2.2,1.5,1.2,
1.2,1.2,1.1,1.0,1.0,1.0,1.0,1.0,1.0,1.0,
1.0,1.0,1.1];

// ---- panels (layout in px) ----
const FONT = '"Liberation Sans", Arial, sans-serif';
const PANEL_H = 137;
const PLOT_LEFT = 74, PLOT_RIGHT = 919, CANVAS_W = 960;

const panels = [
    { name: sites[0], top: 36,  min: -0.05, max: 13.2, ticks: seaTicks, labels: seaTickLabels,
      minor: [1.25, 3.75, 6.25, 8.75, 11.25],
      series: [sea02, sea05, sea09, sea10, sea11, sea15, sea18] },
    { name: sites[1], top: 180, min: -1.2, max: 35.0, ticks: mouthTicks, labels: mouthTicks.map(String),
      minor: [5, 15, 25],
      series: [mouth02, mouth05, mouth09, mouth10, mouth11, mouth15, mouth18] },
    { name: sites[2], top: 325, min: -1.35, max: 39.0, ticks: lowerWestTicks, labels: lowerWestTicks.map(String),
      minor: [5, 15, 25, 35],
      series: [lowerWest02, lowerWest05, lowerWest09, lowerWest10, lowerWest11, lowerWest15, lowerWest18] },
    { name: sites[3], top: 469, min: -1.2, max: 75.0, ticks: lowerEastTicks, labels: lowerEastTicks.map(String),
      minor: [10, 30, 50, 70],
      series: [lowerEast02, lowerEast05, lowerEast09, lowerEast10, lowerEast11, lowerEast15, lowerEast18] },
    { name: sites[4], top: 614, min: -3.9, max: 95.6, ticks: upperEstuaryTicks, labels: upperEstuaryTicks.map(String),
      minor: [12.5, 37.5, 62.5, 87.5],
      series: [upperEstuary02, upperEstuary05, upperEstuary09, upperEstuary10, upperEstuary11, upperEstuary15, upperEstuary18] }
];

// grid, border, tick marks and the grey strip of each facet
const facetPlugin = {
    id: 'facet',
    beforeDatasetsDraw(chart, args, opts) {
        const { ctx, chartArea: a, scales: { x, y } } = chart;
        ctx.save();
        ctx.fillStyle = '#fff';
        ctx.fillRect(a.left, a.top, a.right - a.left, a.bottom - a.top);
        const vline = v => { const px = x.getPixelForValue(v); ctx.beginPath(); ctx.moveTo(px, a.top); ctx.lineTo(px, a.bottom); ctx.stroke(); };
        const hline = v => { const py = y.getPixelForValue(v); ctx.beginPath(); ctx.moveTo(a.left, py); ctx.lineTo(a.right, py); ctx.stroke(); };
        ctx.strokeStyle = '#f3f3f3';
        ctx.lineWidth = 0.8;
        xMinorDays.forEach(vline);
        opts.minor.forEach(hline);
        ctx.strokeStyle = '#e4e4e4';
        ctx.lineWidth = 1.2;
        xTickDays.forEach(vline);
        opts.ticks.forEach(hline);
        ctx.restore();
    },
    afterDatasetsDraw(chart, args, opts) {
        const { ctx, chartArea: a, scales: { x, y } } = chart;
        ctx.save();
        ctx.strokeStyle = '#808080';
        ctx.lineWidth = 1;
        ctx.strokeRect(a.left + 0.5, a.top + 0.5, a.right - a.left - 1, a.bottom - a.top - 1);
        ctx.strokeStyle = '#333';
        opts.ticks.forEach(v => {
            const py = Math.round(y.getPixelForValue(v)) + 0.5;
            ctx.beginPath(); ctx.moveTo(a.left - 4, py); ctx.lineTo(a.left, py); ctx.stroke();
        });
        if (opts.last) {
            xTickDays.forEach(v => {
                const px = Math.round(x.getPixelForValue(v)) + 0.5;
                ctx.beginPath(); ctx.moveTo(px, a.bottom); ctx.lineTo(px, a.bottom + 4); ctx.stroke();
            });
        }
        // strip
        const sx = a.right + 1.5, sw = 26.5;
        ctx.fillStyle = '#c9c9c9';
        ctx.fillRect(sx, a.top, sw, a.bottom - a.top);
        ctx.strokeStyle = '#8c8c8c';
        ctx.strokeRect(sx + 0.5, a.top + 0.5, sw - 1, a.bottom - a.top - 1);
        ctx.translate(sx + sw / 2, (a.top + a.bottom) / 2);
        ctx.rotate(Math.PI / 2);
        ctx.fillStyle = '#1a1a1a';
        ctx.font = '16px ' + FONT;
        ctx.textAlign = 'center';
        ctx.textBaseline = 'middle';
        ctx.fillText(opts.text, 0, 0);
        ctx.restore();
    }
};

const wrap = document.getElementById('wrap');

panels.forEach((p, k) => {
    const last = k === panels.length - 1;
    const padT = 20, padB = last ? 0 : 20, axisH = last ? 25 : 0;
    const cv = document.createElement('canvas');
    cv.width = CANVAS_W;
    cv.height = padT + PANEL_H + padB + axisH;
    cv.style.top = (p.top - padT) + 'px';
    wrap.appendChild(cv);

    new Chart(cv, {
        type: 'scatter',
        data: {
            datasets: versions.map((v, j) => ({
                label: v,
                data: days.map((d, i) => ({ x: d, y: p.series[j][i] })),
                backgroundColor: colors[j],
                borderWidth: 0,
                pointRadius: 1.7,
                pointBorderWidth: 0,
                order: versions.length - j
            }))
        },
        options: {
            responsive: false,
            animation: false,
            events: [],
            layout: { padding: { left: 0, right: CANVAS_W - PLOT_RIGHT, top: padT, bottom: padB } },
            plugins: {
                legend: { display: false },
                tooltip: { enabled: false },
                facet: { text: p.name, ticks: p.ticks, minor: p.minor, last: last }
            },
            scales: {
                x: {
                    type: 'linear', min: -13, max: 388, display: last,
                    grid: { display: false, drawTicks: false }, border: { display: false },
                    afterBuildTicks: s => { s.ticks = xTickDays.map(v => ({ value: v })); },
                    afterFit: s => { s.height = axisH; },
                    ticks: { callback: (v, i) => xTickLabels[i], color: '#4d4d4d', font: { size: 14, family: FONT },
                             padding: 10, maxRotation: 0, autoSkip: false }
                },
                y: {
                    min: p.min, max: p.max,
                    grid: { display: false, drawTicks: false }, border: { display: false },
                    afterBuildTicks: s => { s.ticks = p.ticks.map(v => ({ value: v })); },
                    afterFit: s => { s.width = PLOT_LEFT; },
                    ticks: { callback: (v, i) => p.labels[i], color: '#4d4d4d', font: { size: 15, family: FONT }, padding: 9 }
                }
            }
        },
        plugins: [facetPlugin]
    });
});

// legend
const legendTop = 292, keyH = 32.3;
versions.forEach((v, j) => {
    const key = document.createElement('div');
    key.className = 'key';
    key.style.top = (legendTop + j * keyH) + 'px';
    const dot = document.createElement('div');
    dot.className = 'dot';
    dot.style.background = colors[j];
    key.appendChild(dot);
    wrap.appendChild(key);
    const lab = document.createElement('div');
    lab.className = 'klab';
    lab.textContent = v;
    lab.style.top = (legendTop + j * keyH + keyH / 2 - 10) + 'px';
    wrap.appendChild(lab);
});
</script>
</body>
</html>
